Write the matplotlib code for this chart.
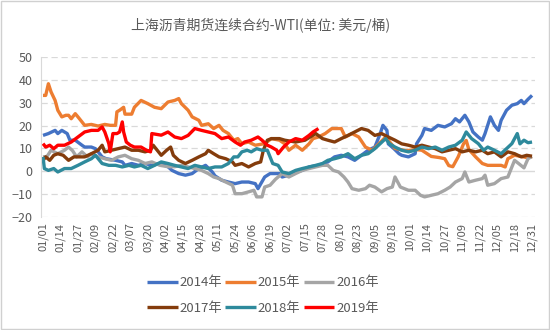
"""Shanghai bitumen continuous futures minus WTI, one line per year (2014-2019).

Writes out.png (550x330).
"""
import matplotlib.pyplot as plt
from matplotlib.patches import Rectangle

plt.rcParams["font.family"] = ["Noto Sans CJK SC", "DejaVu Sans"]

TITLE = "上海沥青期货连续合约-WTI(单位: 美元/桶)"

# x tick labels: every 13 days from 01/01
TICK_DAYS = list(range(0, 365, 13))
TICK_LABELS = [
    "01/01", "01/14", "01/27", "02/09", "02/22", "03/07", "03/20", "04/02",
    "04/15", "04/28", "05/11", "05/24", "06/06", "06/19", "07/02", "07/15",
    "07/28", "08/10", "08/23", "09/05", "09/18", "10/01", "10/14", "10/27",
    "11/09", "11/22", "12/05", "12/18", "12/31",
]

# day-of-year / spread values
days_2014 = [0, 4, 9, 11, 14, 18, 20, 24, 29, 31, 36, 39, 41, 44, 47, 54, 59, 61, 66, 71,
             76, 81, 87, 93, 96, 101, 106, 111, 116, 121, 126, 128, 133, 138, 143, 148,
             153, 158, 160, 165, 169, 176, 178, 183, 188, 193, 198, 205, 212, 217, 222,
             227, 232, 237, 242, 247, 251, 253, 256, 257, 261, 265, 267, 272, 277, 278,
             282, 284, 289, 294, 299, 304, 307, 310, 314, 317, 320, 324, 327, 329, 333,
             336, 339, 341, 345, 349, 353, 356, 358, 361, 364]
vals_2014 = [15.7, 16.5, 17.9, 16.5, 17.9, 16.5, 13.6, 13.6, 11.4, 10.6, 10.6, 9.9, 8.5,
             6.3, 5.5, 4.8, 4.1, 2.6, 3.4, 2.6, 3.4, 2.6, 3.4, 2.0, 0.4, -1.0, -1.7, -1.0,
             1.2, 2.6, -0.3, -2.0, -3.9, -4.7, -5.4, -4.7, -4.7, -5.4, -7.6, -2.5, -1.0,
             -1.0, -2.5, -1.7, -0.3, 0.4, 1.9, 2.6, 4.1, 6.3, 7.0, 6.3, 4.8, 7.0, 9.2, 10.6,
             16.5, 20.1, 17.9, 12.0, 10.0, 7.7, 7.0, 6.3, 7.7, 12.0, 15.7, 18.7, 17.9, 20.1,
             19.4, 20.8, 23.0, 21.6, 24.5, 21.6, 17.2, 15.0, 13.6, 16.5, 23.8, 20.1, 17.9,
             22.3, 26.7, 28.9, 29.6, 31.0, 29.6, 31.5, 33.2]

days_2015 = [0, 2, 4, 6, 9, 11, 14, 17, 19, 21, 24, 26, 29, 31, 36, 41, 46, 50, 54, 55,
             57, 60, 61, 66, 68, 73, 78, 83, 88, 93, 98, 101, 103, 108, 111, 116, 118, 123,
             127, 131, 134, 138, 142, 145, 148, 153, 158, 165, 170, 176, 180, 183, 188,
             193, 198, 201, 205, 210, 215, 222, 225, 230, 235, 240, 245, 250, 255, 262,
             270, 278, 282, 289, 295, 299, 302, 305, 309, 313, 315, 317, 322, 327, 331,
             336, 341, 344, 346, 351, 356, 360, 364]
vals_2015 = [33.2, 33.2, 38.3, 34.7, 31.0, 26.7, 23.8, 24.5, 24.5, 23.0, 25.2, 23.8, 21.6,
             20.1, 20.5, 19.8, 20.5, 20.1, 20.1, 26.0, 26.7, 28.0, 25.0, 25.0, 28.0, 31.0,
             29.6, 28.0, 27.4, 30.3, 31.0, 31.8, 29.6, 26.7, 23.8, 22.3, 20.1, 20.8, 18.7,
             20.1, 17.9, 16.5, 13.6, 14.3, 12.1, 12.8, 11.4, 12.1, 14.3, 13.6, 12.0, 9.2,
             11.4, 9.2, 12.0, 14.3, 15.0, 16.5, 18.7, 18.7, 15.0, 16.5, 15.0, 10.6, 9.2,
             12.0, 15.0, 10.0, 9.0, 9.5, 9.2, 6.5, 6.0, 5.5, 2.5, 2.0, 6.3, 12.0, 13.5,
             9.5, 6.3, 3.4, 2.6, 2.6, 2.6, 1.9, 5.5, 7.0, 6.5, 6.0, 6.3]

days_2016 = [0, 3, 6, 11, 16, 19, 22, 25, 29, 33, 36, 41, 46, 51, 56, 61, 66, 71, 76, 81,
             87, 93, 98, 103, 108, 113, 118, 123, 127, 131, 136, 141, 143, 148, 153, 157,
             159, 163, 165, 169, 173, 178, 183, 188, 193, 198, 203, 208, 212, 216, 220,
             224, 227, 230, 235, 240, 243, 247, 252, 256, 260, 262, 266, 272, 277, 281,
             284, 289, 294, 299, 303, 307, 312, 314, 317, 322, 327, 329, 331, 336, 341,
             346, 349, 351, 354, 358, 361, 364]
vals_2016 = [6.3, 6.5, 9.2, 7.7, 9.2, 10.6, 9.0, 6.3, 8.5, 6.3, 7.7, 6.3, 5.5, 4.8, 6.3,
             7.0, 5.5, 4.8, 3.4, 4.1, 2.6, 2.0, 2.0, 2.6, 1.9, 1.2, 0.4, -1.0, -2.5, -3.2,
             -4.7, -6.1, -9.8, -9.8, -9.0, -8.3, -11.2, -11.2, -6.9, -6.1, -3.5, -1.0,
             -2.5, -1.0, 0.4, 1.2, 1.9, 2.6, 2.6, 0.4, -0.3, -2.5, -4.7, -7.6, -8.3, -7.6,
             -6.1, -6.9, -9.0, -7.6, -6.9, -2.5, -6.9, -8.3, -8.3, -10.5, -11.2, -10.5,
             -9.8, -8.3, -6.9, -4.7, -3.2, -0.3, -4.7, -3.9, -3.2, -1.7, -6.1, -5.4, -3.2,
             -2.5, 1.9, 4.8, 3.4, 1.5, 5.5, 6.5]

days_2017 = [0, 2, 5, 8, 11, 15, 19, 23, 27, 31, 36, 41, 44, 46, 51, 56, 61, 66, 71, 76,
             80, 82, 85, 88, 92, 95, 97, 101, 106, 111, 116, 121, 123, 127, 131, 136, 141,
             143, 148, 153, 158, 162, 164, 167, 170, 176, 180, 188, 195, 203, 208, 212,
             217, 222, 227, 232, 237, 242, 247, 252, 257, 262, 267, 272, 277, 282, 287,
             292, 297, 302, 307, 312, 317, 322, 327, 331, 336, 341, 346, 351, 356, 360, 364]
vals_2017 = [4.8, 6.3, 4.8, 7.0, 7.7, 7.0, 4.8, 6.3, 6.3, 6.3, 7.7, 9.2, 11.4, 8.5, 9.2,
             9.9, 10.6, 9.2, 9.2, 8.5, 9.2, 11.4, 9.2, 7.0, 9.2, 10.6, 7.0, 4.8, 3.4, 4.8,
             6.3, 7.7, 9.2, 7.7, 6.3, 5.5, 4.1, 2.6, 3.4, 1.9, 3.4, 4.1, 9.2, 13.6, 14.3,
             14.3, 13.6, 12.8, 13.6, 16.5, 14.3, 13.6, 12.8, 14.3, 15.7, 17.2, 18.7, 17.9,
             15.7, 16.5, 15.0, 13.6, 12.0, 11.4, 10.6, 11.4, 10.6, 9.9, 8.5, 9.2, 9.9, 8.5,
             9.2, 8.5, 9.2, 7.7, 8.5, 6.3, 8.5, 7.7, 6.3, 7.0, 6.6]

days_2018 = [0, 1, 4, 8, 11, 16, 21, 26, 31, 36, 39, 44, 49, 54, 59, 64, 68, 73, 78, 83,
             88, 93, 98, 103, 108, 113, 118, 123, 128, 133, 138, 142, 145, 148, 152, 155,
             159, 163, 167, 169, 171, 175, 178, 183, 188, 193, 198, 203, 208, 212, 217,
             222, 227, 232, 237, 242, 247, 251, 255, 258, 262, 267, 272, 277, 282, 287,
             292, 297, 302, 307, 312, 315, 319, 324, 328, 331, 336, 341, 345, 349, 353,
             355, 358, 361, 364]
vals_2018 = [6.3, 1.2, 0.4, 1.2, -0.3, 1.2, 1.2, 2.6, 4.1, 5.5, 7.0, 3.4, 2.6, 2.6, 1.9,
             2.6, 1.9, 2.6, 1.2, 2.6, 4.1, 3.4, 2.6, 1.9, 1.2, 2.6, 1.9, 1.2, 1.9, 1.9, 3.4,
             6.3, 6.3, 8.5, 9.2, 8.5, 9.9, 9.2, 9.2, 6.3, 3.4, 2.6, -0.3, -1.0, 0.4, 1.2,
             1.9, 2.6, 3.4, 4.8, 5.5, 6.3, 7.7, 5.5, 7.0, 7.7, 9.9, 12.1, 14.3, 12.0, 10.6,
             9.2, 8.5, 9.2, 10.6, 9.9, 10.6, 9.2, 10.6, 11.4, 13.6, 17.2, 14.3, 12.1, 9.2,
             10.6, 9.2, 7.7, 9.9, 12.1, 16.5, 12.0, 13.6, 12.5, 12.8]

days_2019 = [0, 2, 5, 8, 11, 16, 21, 26, 31, 36, 41, 44, 46, 49, 50, 52, 55, 57, 59, 60,
             62, 65, 68, 73, 77, 80, 81, 88, 93, 98, 103, 108, 113, 118, 123, 128, 133,
             138, 143, 147, 150, 155, 160, 163, 167, 170, 174, 175, 179, 183, 188, 193,
             198, 201, 205]
vals_2019 = [12.1, 10.6, 11.4, 9.9, 11.4, 11.4, 12.8, 15.0, 17.2, 17.9, 17.9, 19.4, 17.2,
             12.1, 8.5, 16.5, 16.5, 17.2, 21.6, 17.2, 12.8, 11.4, 10.6, 10.6, 9.2, 8.5,
             16.5, 15.8, 17.2, 15.0, 14.3, 15.7, 18.7, 17.9, 17.2, 16.5, 14.3, 15.0, 12.8,
             11.4, 12.8, 13.6, 15.0, 13.6, 11.4, 10.6, 9.2, 7.7, 10.6, 12.8, 14.3, 13.6,
             15.7, 17.2, 18.7]

SERIES = [
    ("2014年", days_2014, vals_2014, "#4472C4"),
    ("2015年", days_2015, vals_2015, "#ED7D31"),
    ("2016年", days_2016, vals_2016, "#A5A5A5"),
    ("2017年", days_2017, vals_2017, "#843C0C"),
    ("2018年", days_2018, vals_2018, "#2E8A9C"),
    ("2019年", days_2019, vals_2019, "#FF0000"),
]

TEXT_GREY = "#595959"
GRID_GREY = "#D9D9D9"


def draw(output="out.png"):
    fig = plt.figure(figsize=(5.5, 3.3), dpi=100)
    ax = fig.add_axes([41 / 550, 1 - 217 / 330, 494 / 550, 160 / 330])

    # outer chart border
    fig.add_artist(Rectangle((0.002, 0.003), 0.996, 0.994, transform=fig.transFigure,
                             fill=False, edgecolor="#D0D0D0", linewidth=1.0))

    handles = []
    for label, days, vals, color in SERIES:
        (line,) = ax.plot(days, vals, color=color, linewidth=2.4, label=label,
                          solid_joinstyle="round", solid_capstyle="butt")
        handles.append(line)

    ax.set_xlim(-1.5, 366.2)
    ax.set_ylim(-20, 50)
    ax.set_yticks(range(-20, 51, 10))
    ax.set_xticks(TICK_DAYS)
    ax.set_xticklabels(TICK_LABELS, rotation=90)

    # dashed horizontal gridlines, solid zero line
    for y in range(-20, 51, 10):
        if y == 0:
            ax.axhline(0, color=GRID_GREY, linewidth=1.0, zorder=0.5)
        else:
            ax.axhline(y, color=GRID_GREY, linewidth=0.9, linestyle=(0, (5, 3)), zorder=0.5)

    for side in ("top", "right", "bottom"):
        ax.spines[side].set_visible(False)
    ax.spines["left"].set_color(GRID_GREY)
    ax.tick_params(axis="both", length=0, colors=TEXT_GREY)
    ax.tick_params(axis="x", labelsize=8, pad=4)
    ax.tick_params(axis="y", labelsize=9, pad=6)

    fig.text(0.473, 0.924, TITLE, ha="center", va="center", fontsize=10, color=TEXT_GREY)

    # legend fills column by column; reorder so rows read 2014-2016 / 2017-2019
    order = [0, 3, 1, 4, 2, 5]
    fig.legend([handles[i] for i in order], [SERIES[i][0] for i in order],
               loc="center", bbox_to_anchor=(0.478, 0.104), ncol=3, frameon=False,
               fontsize=9.5, handlelength=2.3, handletextpad=0.15, columnspacing=0.25,
               labelspacing=0.95, labelcolor=TEXT_GREY)

    fig.savefig(output, dpi=100)
    plt.close(fig)


if __name__ == "__main__":
    draw()
